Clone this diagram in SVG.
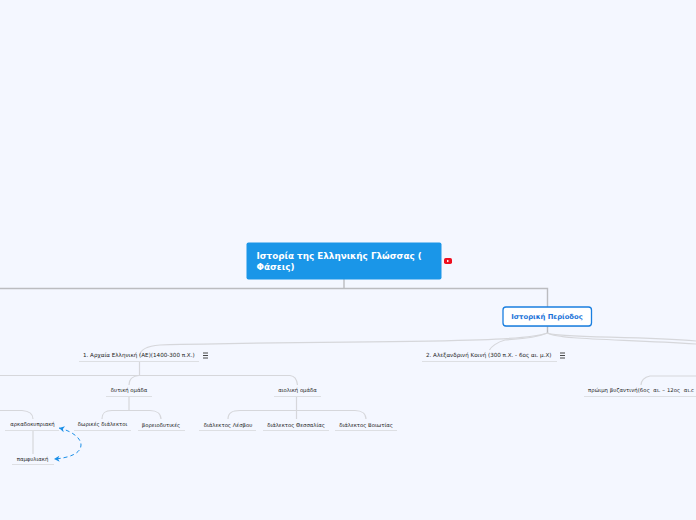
<svg xmlns="http://www.w3.org/2000/svg" width="696" height="520" viewBox="0 0 696 520">
<defs>
<marker id="arr" markerUnits="userSpaceOnUse" markerWidth="8" markerHeight="8" refX="6.500" refY="4" orient="auto-start-reverse"><path d="M1 1 L6.500 4 L1 7 L2.500 4Z" fill="#1a8fe8"/></marker>
</defs>
<style>
text{font-family:"DejaVu Sans","Liberation Sans",sans-serif;fill:#222;font-size:5.300px}
.u{stroke:#dddfe3;stroke-width:1.200;fill:none}
.c{stroke:#d6d7db;stroke-width:1.200;fill:none}
.d{stroke:#bbbcc0;stroke-width:1.400;fill:none}
.m{text-anchor:middle}
.i{stroke:#333;stroke-width:.9}
</style>
<rect width="696" height="520" fill="#f4f7ff"/>
<g id="connectors">
<path class="d" d="M344 279V288.500M0 288.500H547.500V307"/>
<path class="d" d="M547.500 326V333"/>
<path class="c" d="M547.500 333C520 344 350 340 160 345C147 346 140 350 139.500 356M139.500 361V375"/>
<path class="c" d="M547.500 333C530 340 510 339 505 340C497 342 491 347 489.500 350"/>
<path class="c" d="M547.500 333C560 340 620 339 696 344"/>
<path class="c" d="M547.500 333C555 338 640 336 696 341"/>
<path class="c" d="M696 376H650C644 377 641 381 641 385"/>
<path class="c" d="M0 375.500H290C295 376 297 380 297.500 385"/>
<path class="c" d="M139 375.500C132 376 129 379 129 385"/>
<path class="c" d="M129 396V410M102 419C102 412 106 410.500 112 410.500H150C157 410.500 161 414 161 419"/>
<path class="c" d="M296.500 396V410M228 419C228 412 233 410.500 240 410.500H355C362 410.500 366 414 366 419M296.500 410V419"/>
<path class="c" d="M0 410.500H22C29 411 33 414 33 419"/>
<path class="c" d="M33 431V454"/>
<path d="M59 428C72 431 81 438 81 445C81 453 70 458 54 459" fill="none" stroke="#1a8fe8" stroke-width="1" stroke-dasharray="4 3" marker-start="url(#arr)" marker-end="url(#arr)"/>
</g>
<g id="root">
<rect x="246.500" y="242.500" width="195" height="37" rx="2" fill="#1a96e8"/>
<text x="256.500" y="259" style="font-size:8.800px;font-weight:700;fill:#fff">Ιστορία της Ελληνικής Γλώσσας (</text>
<text x="256.500" y="270" style="font-size:8.800px;font-weight:700;fill:#fff">Φάσεις)</text>
<rect x="444" y="258" width="8" height="6" rx="1.800" fill="#ee0f1f"/>
<path d="M447 259.800 L449.300 261 L447 262.200Z" fill="#fff"/>
</g>
<g id="historic">
<rect x="503.500" y="308" width="88" height="19" rx="3" fill="#9fb4d0" opacity=".5"/>
<rect x="503" y="307" width="88.500" height="19" rx="3" fill="#fff" stroke="#1a7fe0" stroke-width="1.300"/>
<text x="547" y="319" class="m" style="font-size:6.800px;font-weight:700;fill:#1a73d8">Ιστορική Περίοδος</text>
</g>
<g id="n1">
<path class="u" d="M79 361.500H199"/>
<text x="83" y="357" style="font-size:5.600px">1. Αρχαία Ελληνική (ΑΕ)(1400-300 π.Χ.)</text>
<path class="i" d="M203 353H208M203 355.500H208M203 358H208"/>
</g>
<g id="n2">
<path class="u" d="M422 361.500H557"/>
<text x="426" y="357" style="font-size:5.600px">2. Αλεξανδρινή Κοινή (300 π.Χ. - 6ος αι. μ.Χ)</text>
<path class="i" d="M560 353H565M560 355.500H565M560 358H565"/>
</g>
<g id="n3">
<path class="u" d="M584 396.500H696"/>
<text x="588" y="392" textLength="106" xml:space="preserve">πρώιμη βυζαντινή(6ος  αι. – 12ος  αι.c</text>
</g>
<g id="n4">
<path class="u" d="M106 396.500H152"/>
<text x="129" y="392" class="m">δυτική ομάδα</text>
</g>
<g id="n5">
<path class="u" d="M274 396.500H321"/>
<text x="297.500" y="392" class="m">αιολική ομάδα</text>
</g>
<g id="n6">
<path class="u" d="M5 430.500H59"/>
<text x="32.500" y="426" class="m">αρκαδοκυπριακή</text>
</g>
<g id="n7">
<path class="u" d="M12 464.500H54"/>
<text x="32.500" y="460.500" class="m">παμφυλιακή</text>
</g>
<g id="n8">
<path class="u" d="M74 430.500H131"/>
<text x="102.500" y="426" class="m">δωρικές διάλεκτοι</text>
</g>
<g id="n9">
<path class="u" d="M138 430.500H185"/>
<text x="161" y="426.500" class="m">βορειοδυτικές</text>
</g>
<g id="n10">
<path class="u" d="M199 430.500H256"/>
<text x="228" y="426.500" class="m">διάλεκτος Λέσβου</text>
</g>
<g id="n11">
<path class="u" d="M263 430.500H329"/>
<text x="296" y="426.500" class="m">διάλεκτος Θεσσαλίας</text>
</g>
<g id="n12">
<path class="u" d="M335 430.500H397"/>
<text x="366" y="426.500" class="m">διάλεκτος Βοιωτίας</text>
</g>
</svg>
